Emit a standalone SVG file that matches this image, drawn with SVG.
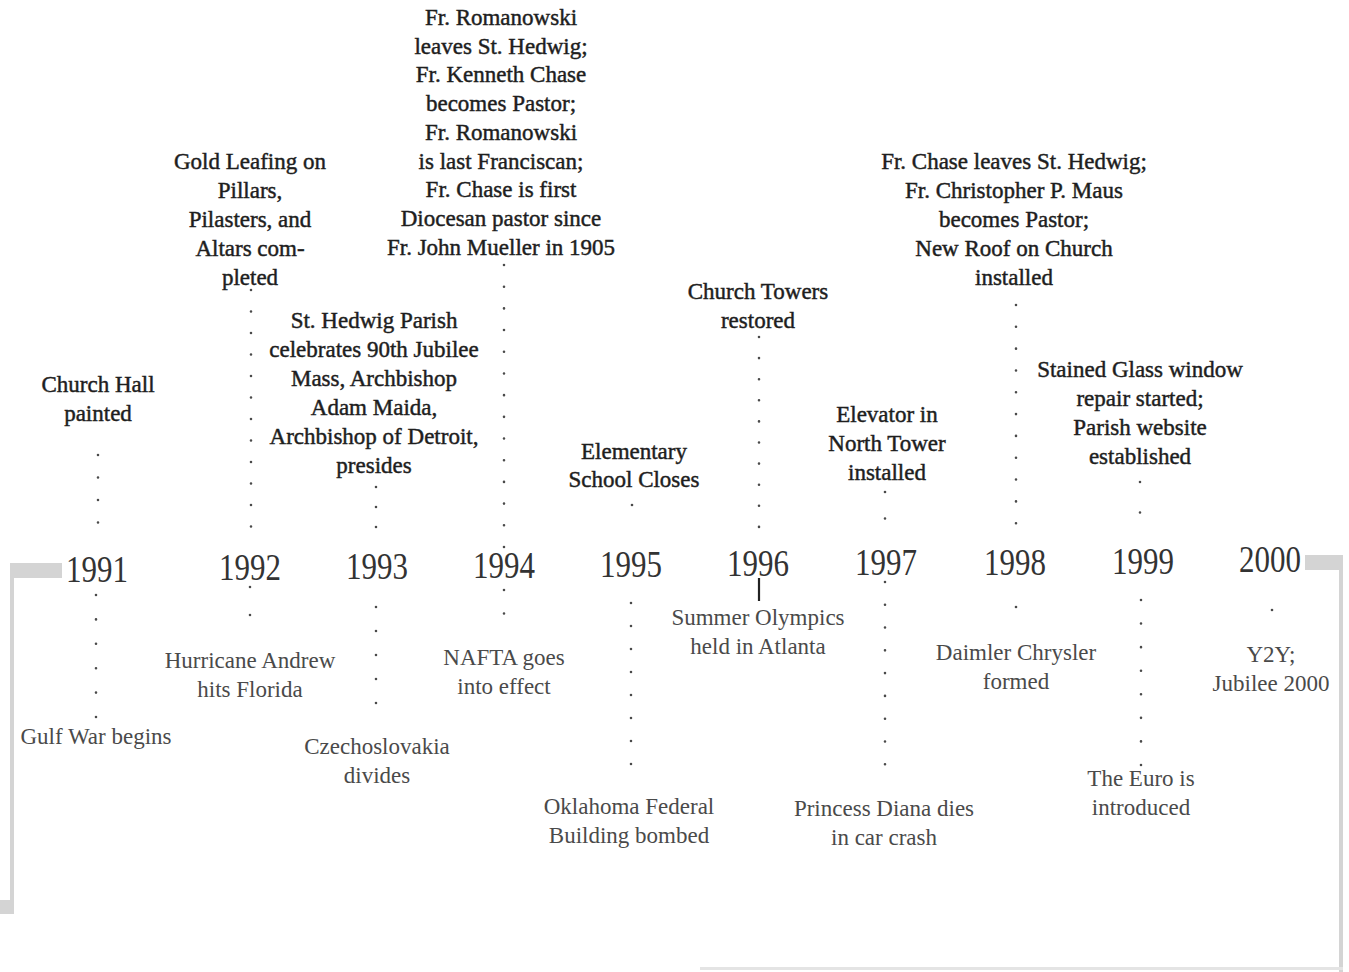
<svg xmlns="http://www.w3.org/2000/svg" width="1349" height="972" viewBox="0 0 1349 972">
<style>
.top{font-family:"Liberation Serif",serif;font-size:23px;fill:#1e1e1e;text-anchor:middle;stroke:#1e1e1e;stroke-width:0.45}
.bot{font-family:"Liberation Serif",serif;font-size:23px;fill:#4a4a4a;text-anchor:middle}
.yr{font-family:"Liberation Serif",serif;font-size:38px;fill:#333;text-anchor:middle}
.dots{fill:none;stroke:#4a4a4a;stroke-width:2.6;stroke-linecap:round}
.frame{fill:#d4d4d4}
</style>
<rect width="1349" height="972" fill="#ffffff"/>
<g id="frame">
<rect class="frame" x="10" y="563" width="52" height="15"/>
<rect class="frame" x="10" y="575" width="4" height="338"/>
<rect class="frame" x="0" y="900" width="14" height="14"/>
<rect class="frame" x="1305" y="555" width="38" height="15"/>
<rect class="frame" x="1339" y="560" width="4" height="412"/>
<rect x="700" y="967" width="643" height="3" fill="#e4e4e4"/>
</g>
<g id="connectors">
<path class="dots" stroke-dasharray="0 22.5" d="M98 455V545"/>
<path class="dots" stroke-dasharray="0 24.4" d="M96 595V717"/>
<path class="dots" stroke-dasharray="0 21.5" d="M251 290V548"/>
<path class="dots" stroke-dasharray="0 28" d="M250 587V643"/>
<path class="dots" stroke-dasharray="0 20" d="M376 487V547"/>
<path class="dots" stroke-dasharray="0 24" d="M376 607V727"/>
<path class="dots" stroke-dasharray="0 21.69" d="M504 265V547"/>
<path class="dots" stroke-dasharray="0 23.5" d="M504 590V637"/>
<path class="dots" stroke-dasharray="0 42" d="M632 505V547"/>
<path class="dots" stroke-dasharray="0 23" d="M631 603V787"/>
<path class="dots" stroke-dasharray="0 21.1" d="M759 337V548"/>
<path d="M759 578V601" stroke="#222" stroke-width="2.2"/>
<path class="dots" stroke-dasharray="0 26.5" d="M885 492V545"/>
<path class="dots" stroke-dasharray="0 22.78" d="M885 582V787"/>
<path class="dots" stroke-dasharray="0 21.82" d="M1016 305V545"/>
<path class="dots" stroke-dasharray="0 28" d="M1016 607V635"/>
<path class="dots" stroke-dasharray="0 30.5" d="M1140 482V543"/>
<path class="dots" stroke-dasharray="0 23.57" d="M1141 600V765"/>
<path class="dots" stroke-dasharray="0 27" d="M1272 610V637"/>
</g>
<g id="years">
<text class="yr" x="97" y="582" textLength="62" lengthAdjust="spacingAndGlyphs">1991</text>
<text class="yr" x="250" y="580" textLength="62" lengthAdjust="spacingAndGlyphs">1992</text>
<text class="yr" x="377" y="579" textLength="62" lengthAdjust="spacingAndGlyphs">1993</text>
<text class="yr" x="504" y="578" textLength="62" lengthAdjust="spacingAndGlyphs">1994</text>
<text class="yr" x="631" y="577" textLength="62" lengthAdjust="spacingAndGlyphs">1995</text>
<text class="yr" x="758" y="576" textLength="62" lengthAdjust="spacingAndGlyphs">1996</text>
<text class="yr" x="886" y="575" textLength="62" lengthAdjust="spacingAndGlyphs">1997</text>
<text class="yr" x="1015" y="575" textLength="62" lengthAdjust="spacingAndGlyphs">1998</text>
<text class="yr" x="1143" y="574" textLength="62" lengthAdjust="spacingAndGlyphs">1999</text>
<text class="yr" x="1270" y="572" textLength="62" lengthAdjust="spacingAndGlyphs">2000</text>
</g>
<g id="e1991-top"><text class="top" x="98" y="392">Church Hall</text><text class="top" x="98" y="421">painted</text></g>
<g id="e1991-bot"><text class="bot" x="96" y="744">Gulf War begins</text></g>
<g id="e1992-top"><text class="top" x="250" y="169">Gold Leafing on</text><text class="top" x="250" y="198">Pillars,</text><text class="top" x="250" y="227">Pilasters, and</text><text class="top" x="250" y="256">Altars com-</text><text class="top" x="250" y="285">pleted</text></g>
<g id="e1992-bot"><text class="bot" x="250" y="668">Hurricane Andrew</text><text class="bot" x="250" y="697">hits Florida</text></g>
<g id="e1993-top"><text class="top" x="374" y="328">St. Hedwig Parish</text><text class="top" x="374" y="357">celebrates 90th Jubilee</text><text class="top" x="374" y="386">Mass, Archbishop</text><text class="top" x="374" y="415">Adam Maida,</text><text class="top" x="374" y="444">Archbishop of Detroit,</text><text class="top" x="374" y="473">presides</text></g>
<g id="e1993-bot"><text class="bot" x="377" y="754">Czechoslovakia</text><text class="bot" x="377" y="783">divides</text></g>
<g id="e1994-top"><text class="top" x="501" y="25">Fr. Romanowski</text><text class="top" x="501" y="54">leaves St. Hedwig;</text><text class="top" x="501" y="82">Fr. Kenneth Chase</text><text class="top" x="501" y="111">becomes Pastor;</text><text class="top" x="501" y="140">Fr. Romanowski</text><text class="top" x="501" y="169">is last Franciscan;</text><text class="top" x="501" y="197">Fr. Chase is first</text><text class="top" x="501" y="226">Diocesan pastor since</text><text class="top" x="501" y="255">Fr. John Mueller in 1905</text></g>
<g id="e1994-bot"><text class="bot" x="504" y="665">NAFTA goes</text><text class="bot" x="504" y="694">into effect</text></g>
<g id="e1995-top"><text class="top" x="634" y="459">Elementary</text><text class="top" x="634" y="487">School Closes</text></g>
<g id="e1995-bot"><text class="bot" x="629" y="814">Oklahoma Federal</text><text class="bot" x="629" y="843">Building bombed</text></g>
<g id="e1996-top"><text class="top" x="758" y="299">Church Towers</text><text class="top" x="758" y="328">restored</text></g>
<g id="e1996-bot"><text class="bot" x="758" y="625">Summer Olympics</text><text class="bot" x="758" y="654">held in Atlanta</text></g>
<g id="e1997-top"><text class="top" x="887" y="422">Elevator in</text><text class="top" x="887" y="451">North Tower</text><text class="top" x="887" y="480">installed</text></g>
<g id="e1997-bot"><text class="bot" x="884" y="816">Princess Diana dies</text><text class="bot" x="884" y="845">in car crash</text></g>
<g id="e1998-top"><text class="top" x="1014" y="169">Fr. Chase leaves St. Hedwig;</text><text class="top" x="1014" y="198">Fr. Christopher P. Maus</text><text class="top" x="1014" y="227">becomes Pastor;</text><text class="top" x="1014" y="256">New Roof on Church</text><text class="top" x="1014" y="285">installed</text></g>
<g id="e1998-bot"><text class="bot" x="1016" y="660">Daimler Chrysler</text><text class="bot" x="1016" y="689">formed</text></g>
<g id="e1999-top"><text class="top" x="1140" y="377">Stained Glass window</text><text class="top" x="1140" y="406">repair started;</text><text class="top" x="1140" y="435">Parish website</text><text class="top" x="1140" y="464">established</text></g>
<g id="e1999-bot"><text class="bot" x="1141" y="786">The Euro is</text><text class="bot" x="1141" y="815">introduced</text></g>
<g id="e2000-bot"><text class="bot" x="1271" y="662">Y2Y;</text><text class="bot" x="1271" y="691">Jubilee 2000</text></g>
</svg>
